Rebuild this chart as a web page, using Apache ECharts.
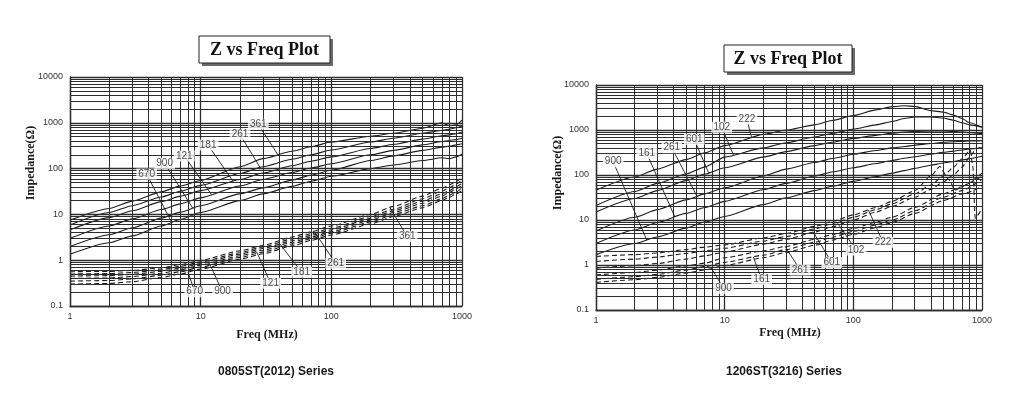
<!DOCTYPE html>
<html><head><meta charset="utf-8">
<script src="https://cdn.jsdelivr.net/npm/echarts@6/dist/echarts.min.js"></script>
<style>html,body{margin:0;padding:0;background:#fff}#c{width:1021px;height:400px}</style>
</head><body><div id="c"></div>
<script>
// ---------- tick labels ----------
const X_TICKS = [1, 10, 100, 1000];
const Y_TICKS = [0.1, 1, 10, 100, 1000, 10000];

// ---------- Left chart: 0805ST(2012) Series ----------
const L_FREQ = [1,2,3,5,7,10,20,30,50,70,100,200,300,500,700,800,900,1000];
// impedance |Z| (solid)
const L_S670 = [1.35,2.4,3.4,5.6,7.8,11,20,28,41,53,68,100,120,150,172,165,180,205];
const L_S900 = [2.0,3.6,5.1,8.3,11.2,15.5,28,38,56,72,92,150,190,250,295,310,330,350];
const L_S121 = [3.0,5.6,8.0,12.8,17,23,42,58,82,103,128,200,250,330,390,410,430,460];
const L_S181 = [4.6,8.5,12,19,25,33,58,80,115,145,180,275,340,440,520,545,580,620];
const L_S261 = [5.9,11,15.5,24,32,43,78,110,160,200,255,380,460,590,680,720,780,850];
const L_S361 = [7.5,13.5,19.5,31,42,55,110,165,240,300,380,510,590,760,1000,860,900,1150];
// resistance R (dashed)
const L_D361 = [0.56,0.57,0.6,0.68,0.8,1.0,1.6,2.1,3.2,4.2,5.6,10,15,25,37,44,52,65];
const L_D261 = [0.50,0.51,0.54,0.62,0.73,0.92,1.45,1.95,2.9,3.8,5.0,9,13,22,32,38,46,56];
const L_D181 = [0.45,0.46,0.49,0.57,0.67,0.85,1.35,1.8,2.65,3.5,4.6,8.2,12,19.5,28,33,40,48];
const L_D121 = [0.40,0.41,0.44,0.52,0.62,0.78,1.25,1.65,2.45,3.2,4.2,7.5,11,17.5,25,30,36,43];
const L_D900 = [0.35,0.36,0.39,0.47,0.56,0.71,1.15,1.5,2.25,2.95,3.9,6.8,10,15.5,22,26,31,38];
const L_D670 = [0.30,0.31,0.34,0.42,0.50,0.64,1.05,1.38,2.05,2.7,3.55,6.2,9,14,20,23.5,28,33];
// callouts: [text, label freq, label Z, target freq on curve]
const L_SOLID_NOTES = [['361',27.6,930,39],['261',20,560,28.5],['181',11.4,327,17.7],['121',7.5,188,12.1],['900',5.3,130,8.7],['670',3.86,76,6.0]];
const L_DASH_NOTES  = [['670',9.0,0.205,8.0],['900',14.7,0.205,11.8],['121',34.3,0.313,26.8],['181',59.3,0.545,40.4],['261',108,0.855,75],['361',381,3.26,281]];

// ---------- Right chart: 1206ST(3216) Series ----------
const R_FREQ = [1,2,3,5,7,10,20,30,50,70,100,150,200,250,300,400,500,600,700,800,1000];
const R_S222 = [46,90,135,220,310,450,800,1000,1300,1650,2100,2800,3300,3450,3350,2700,2500,2150,1800,1450,1150];
const R_S102 = [21,43,65,105,150,250,400,520,700,850,1050,1300,1550,1800,1950,1950,1850,1650,1450,1300,1150];
const R_S601 = [15,30,45,75,105,145,250,330,450,540,650,760,850,900,930,950,950,930,900,870,830];
const R_S261 = [5.7,11.5,17,28,38,52,95,135,190,235,290,350,400,430,460,500,530,550,560,570,580];
const R_S161 = [3.0,6.0,8.8,14,19,26,47,65,95,118,145,180,210,235,255,290,320,340,360,380,400];
const R_S900 = [1.7,3.0,4.2,6.6,9,12,22,31,45,57,72,92,110,125,140,165,185,200,215,230,260];
const R_D222_F = [1,2,3,5,7,10,20,30,50,70,100,150,200,300,400,470,550,620,700,800,1000];
const R_D222_Z = [1.55,1.7,1.85,2.2,2.5,2.8,4.0,5.0,7.2,9.5,13,19,26,45,95,155,80,46,55,68,95];
const R_D102_F = [1,2,3,5,7,10,20,30,50,70,100,150,200,300,400,500,600,700,810,850,885,1000];
const R_D102_Z = [1.2,1.35,1.5,1.8,2.05,2.35,3.4,4.3,6.3,8.5,11.5,17,23,38,60,95,150,230,360,150,11,18];
const R_D601_F = [1,2,3,5,7,10,20,30,50,70,100,150,200,300,400,500,600,700,800,900,1000];
const R_D601_Z = [0.85,0.97,1.08,1.35,1.6,1.95,2.9,3.7,5.4,7.2,10,15,20,32,48,70,100,150,250,380,420];
const R_DLOW_F = [1,2,3,5,7,10,20,30,50,70,100,150,200,300,500,700,1000];
const R_D261_Z = [0.6,0.68,0.77,0.95,1.1,1.45,2.05,2.6,3.7,4.8,6.5,9,11.5,19,38,55,110];
const R_D161_Z = [0.48,0.55,0.62,0.77,0.92,1.15,1.65,2.2,3.2,4.2,5.6,7.8,10,16,32,45,80];
const R_D900_Z = [0.41,0.47,0.53,0.66,0.78,0.97,1.45,1.9,2.75,3.6,4.8,6.8,8.8,14,27,38,55];
const R_SOLID_NOTES = [['222',14.9,1750,16.2],['102',9.5,1150,11.7],['601',5.8,620,7.5],['261',3.88,404,6.1],['161',2.48,303,4.1],['900',1.36,197,2.48]];
const R_DASH_NOTES  = [['222',170,3.19,131],['102',105,2.15,74.5],['601',68,1.13,49],['261',38.6,0.774,29.5],['161',19.4,0.48,16.7],['900',9.8,0.303,7.9]];

// ---------- build ----------
const INK = '#1c1c1c';
const GRIDC = '#2e2e2e';
function pairs(f, z) { return f.map((x, i) => [x, z[i]]); }
function interpLog(p, f) {
  for (let i = 0; i < p.length - 1; i++) {
    const [x0, y0] = p[i], [x1, y1] = p[i + 1];
    if (f >= x0 && f <= x1) {
      const t = (Math.log(f) - Math.log(x0)) / (Math.log(x1) - Math.log(x0));
      return Math.exp(Math.log(y0) + t * (Math.log(y1) - Math.log(y0)));
    }
  }
  return p[p.length - 1][1];
}
function gridMarks() {
  const out = [];
  const xd = X_TICKS, yd = Y_TICKS;
  xd.forEach((d, i) => {
    out.push({ xAxis: d, lineStyle: { width: 1.3 } });
    if (i < xd.length - 1) for (let k = 2; k <= 9; k++) out.push({ xAxis: +(d * k).toPrecision(6) });
  });
  yd.forEach((d, i) => {
    out.push({ yAxis: d, lineStyle: { width: 1.3 } });
    if (i < yd.length - 1) for (let k = 2; k <= 9; k++) out.push({ yAxis: +(d * k).toPrecision(6) });
  });
  return out;
}
function curve(gi, data, dashed) {
  return {
    type: 'line', xAxisIndex: gi, yAxisIndex: gi, data: data, showSymbol: false, silent: true,
    smooth: 0.2, smoothMonotone: 'x', z: 3,
    lineStyle: { color: INK, width: 1.1, type: dashed ? [5, 3] : 'solid' }
  };
}
function build(gi, curves, notes) {
  const s = [];
  s.push({
    type: 'line', xAxisIndex: gi, yAxisIndex: gi, data: [[1, 0.1], [1000, 10000]], showSymbol: false,
    silent: true, z: 1, lineStyle: { opacity: 0 },
    markLine: { silent: true, symbol: ['none', 'none'], label: { show: false }, animation: false,
      lineStyle: { color: GRIDC, width: 1, type: 'solid' }, data: gridMarks() }
  });
  const leaders = [], labels = [];
  curves.forEach(c => s.push(curve(gi, c.data, c.dashed)));
  notes.forEach(n => {
    const [txt, lf, lv, tf, target] = n;
    const tv = interpLog(target, tf);
    leaders.push([{ coord: [lf, lv] }, { coord: [tf, tv] }]);
    labels.push({ name: txt, value: [lf, lv] });
  });
  s.push({
    type: 'line', xAxisIndex: gi, yAxisIndex: gi, data: [[1, 0.1], [1000, 10000]], showSymbol: false,
    silent: true, z: 4, lineStyle: { opacity: 0 },
    markLine: { silent: true, symbol: ['none', 'none'], label: { show: false }, animation: false,
      lineStyle: { color: INK, width: 0.9, type: 'solid' }, data: leaders }
  });
  s.push({
    type: 'scatter', xAxisIndex: gi, yAxisIndex: gi, data: labels, symbolSize: 2, silent: true, z: 5,
    itemStyle: { color: 'rgba(255,255,255,0)' },
    label: { show: true, position: 'inside', formatter: '{b}', color: '#222', fontSize: 10,
      fontFamily: 'Liberation Sans', backgroundColor: '#fff', padding: [1, 2, 0, 2] }
  });
  return s;
}

const L_CURVES = [
  { data: pairs(L_FREQ, L_S670) }, { data: pairs(L_FREQ, L_S900) }, { data: pairs(L_FREQ, L_S121) },
  { data: pairs(L_FREQ, L_S181) }, { data: pairs(L_FREQ, L_S261) }, { data: pairs(L_FREQ, L_S361) },
  { data: pairs(L_FREQ, L_D670), dashed: true }, { data: pairs(L_FREQ, L_D900), dashed: true },
  { data: pairs(L_FREQ, L_D121), dashed: true }, { data: pairs(L_FREQ, L_D181), dashed: true },
  { data: pairs(L_FREQ, L_D261), dashed: true }, { data: pairs(L_FREQ, L_D361), dashed: true }
];
const Lmap = { s670: L_CURVES[0].data, s900: L_CURVES[1].data, s121: L_CURVES[2].data, s181: L_CURVES[3].data, s261: L_CURVES[4].data, s361: L_CURVES[5].data,
  d670: L_CURVES[6].data, d900: L_CURVES[7].data, d121: L_CURVES[8].data, d181: L_CURVES[9].data, d261: L_CURVES[10].data, d361: L_CURVES[11].data };
const L_NOTES = L_SOLID_NOTES.map(n => [...n, Lmap['s' + n[0]]]).concat(L_DASH_NOTES.map(n => [...n, Lmap['d' + n[0]]]));

const R_CURVES = [
  { data: pairs(R_FREQ, R_S222) }, { data: pairs(R_FREQ, R_S102) }, { data: pairs(R_FREQ, R_S601) },
  { data: pairs(R_FREQ, R_S261) }, { data: pairs(R_FREQ, R_S161) }, { data: pairs(R_FREQ, R_S900) },
  { data: pairs(R_D222_F, R_D222_Z), dashed: true }, { data: pairs(R_D102_F, R_D102_Z), dashed: true },
  { data: pairs(R_D601_F, R_D601_Z), dashed: true }, { data: pairs(R_DLOW_F, R_D261_Z), dashed: true },
  { data: pairs(R_DLOW_F, R_D161_Z), dashed: true }, { data: pairs(R_DLOW_F, R_D900_Z), dashed: true }
];
const Rmap = { s222: R_CURVES[0].data, s102: R_CURVES[1].data, s601: R_CURVES[2].data, s261: R_CURVES[3].data, s161: R_CURVES[4].data, s900: R_CURVES[5].data,
  d222: R_CURVES[6].data, d102: R_CURVES[7].data, d601: R_CURVES[8].data, d261: R_CURVES[9].data, d161: R_CURVES[10].data, d900: R_CURVES[11].data };
const R_NOTES = R_SOLID_NOTES.map(n => [...n, Rmap['s' + n[0]]]).concat(R_DASH_NOTES.map(n => [...n, Rmap['d' + n[0]]]));

function fmt(v) { return String(+(+v).toPrecision(4)); }
function xAxis(gi) {
  return { type: 'log', logBase: 10, gridIndex: gi, min: X_TICKS[0], max: X_TICKS[X_TICKS.length - 1],
    axisLine: { show: true, lineStyle: { color: INK, width: 1.3 } }, axisTick: { show: false },
    splitLine: { show: false }, minorSplitLine: { show: false },
    axisLabel: { fontSize: 9, color: '#333', fontFamily: 'Liberation Sans', margin: 6, formatter: fmt } };
}
function yAxis(gi) {
  return { type: 'log', logBase: 10, gridIndex: gi, min: Y_TICKS[0], max: Y_TICKS[Y_TICKS.length - 1],
    axisLine: { show: true, lineStyle: { color: INK, width: 1.3 } }, axisTick: { show: false },
    splitLine: { show: false },
    axisLabel: { fontSize: 9, color: '#333', fontFamily: 'Liberation Sans', margin: 7, formatter: fmt } };
}
function titleBox(x, y, w, h) {
  return [
    { type: 'rect', shape: { x: x + 3, y: y + 3, width: w, height: h }, style: { fill: '#6a6a6a' }, z: 100 },
    { type: 'rect', shape: { x: x, y: y, width: w, height: h }, style: { fill: '#fff', stroke: '#222', lineWidth: 1 }, z: 101 },
    { type: 'text', x: x + w / 2, y: y + h / 2 + 1, z: 102,
      style: { text: 'Z vs Freq Plot', font: 'bold 18px "Liberation Serif"', fill: '#111', align: 'center', verticalAlign: 'middle' } }
  ];
}
function txt(t, x, y, font, rot) {
  return { type: 'text', x: x, y: y, rotation: rot || 0, z: 100,
    style: { text: t, font: font, fill: '#1a1a1a', align: 'center', verticalAlign: 'middle' } };
}

const chart = echarts.init(document.getElementById('c'), null, { renderer: 'canvas' });
chart.setOption({
  animation: false,
  backgroundColor: '#fff',
  grid: [
    { left: 70, top: 77, width: 392, height: 229 },
    { left: 596, top: 85, width: 386, height: 225 }
  ],
  xAxis: [xAxis(0), xAxis(1)],
  yAxis: [yAxis(0), yAxis(1)],
  series: build(0, L_CURVES, L_NOTES).concat(build(1, R_CURVES, R_NOTES)),
  graphic: [].concat(
    titleBox(199, 36, 131, 27),
    titleBox(724, 45, 128, 27),
    [
      txt('Impedance(Ω)', 31, 163, 'bold 12px "Liberation Serif"', Math.PI / 2),
      txt('Impedance(Ω)', 558, 173, 'bold 12px "Liberation Serif"', Math.PI / 2),
      txt('Freq (MHz)', 267, 335, 'bold 12px "Liberation Serif"'),
      txt('Freq (MHz)', 790, 333, 'bold 12px "Liberation Serif"'),
      txt('0805ST(2012) Series', 276, 372, 'bold 12px "Liberation Sans"'),
      txt('1206ST(3216) Series', 784, 372, 'bold 12px "Liberation Sans"')
    ]
  )
});
</script></body></html>
